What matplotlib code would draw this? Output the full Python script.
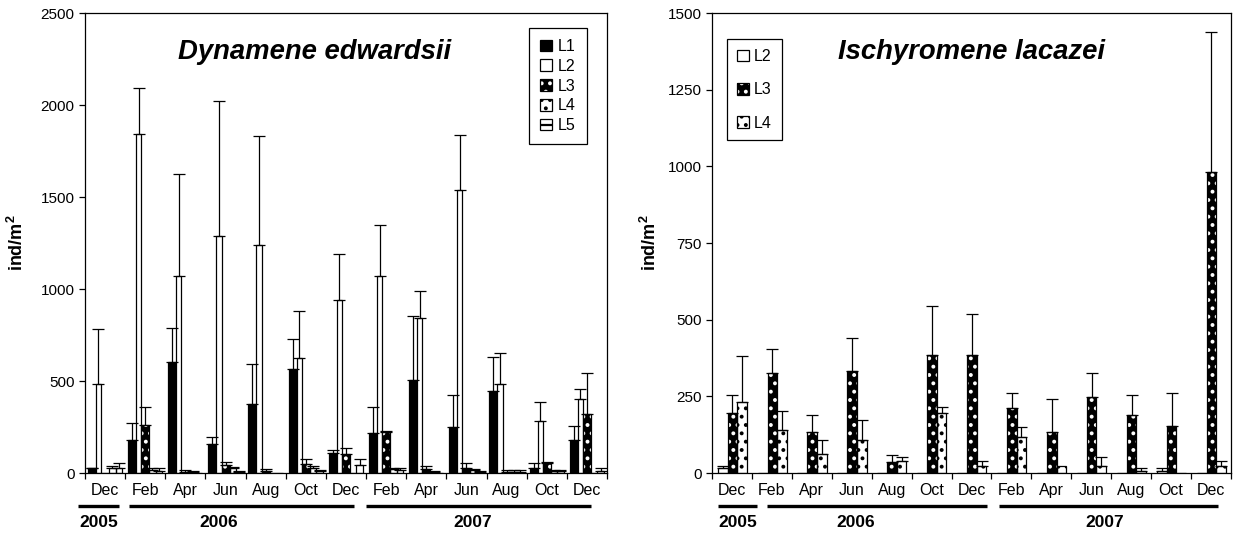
import matplotlib.pyplot as plt
from matplotlib.patches import Patch
from matplotlib.transforms import blended_transform_factory

plt.rcParams['font.family'] = ['Liberation Sans', 'DejaVu Sans']
plt.rcParams['mathtext.fontset'] = 'custom'
plt.rcParams['mathtext.rm'] = 'Liberation Sans'
plt.rcParams['mathtext.bf'] = 'Liberation Sans:bold'
plt.rcParams['hatch.linewidth'] = 1.6

# sampling months (two-monthly, Dec 2005 - Dec 2007)
months = ['Dec', 'Feb', 'Apr', 'Jun', 'Aug', 'Oct', 'Dec',
          'Feb', 'Apr', 'Jun', 'Aug', 'Oct', 'Dec']
years = ['2005', '2006', '2007']

# Dynamene edwardsii: mean density and mean + SD (ind/m2)
de_L1 = [27, 179, 604, 157, 375, 567, 110, 219, 505, 248, 447, 29, 179]
de_L1_top = [30, 270, 791, 197, 592, 731, 125, 357, 852, 424, 632, 57, 255]
de_L2 = [483, 1845, 1070, 1289, 1238, 623, 940, 1070, 840, 1538, 484, 285, 404]
de_L2_top = [782, 2092, 1625, 2025, 1834, 881, 1189, 1347, 990, 1835, 654, 386, 455]
de_L3 = [0, 261, 5, 42, 10, 51, 103, 221, 20, 27, 8, 55, 319]
de_L3_top = [0, 357, 18, 61, 22, 74, 138, 228, 40, 57, 15, 60, 545]
de_L4 = [27, 15, 5, 25, 0, 25, 0, 20, 5, 15, 8, 10, 0]
de_L4_top = [37, 28, 10, 33, 0, 36, 0, 30, 10, 20, 15, 15, 0]
de_L5 = [25, 12, 0, 8, 0, 10, 42, 15, 0, 8, 8, 10, 12]
de_L5_top = [56, 25, 0, 12, 0, 16, 76, 28, 0, 12, 15, 15, 29]

# Ischyromene lacazei
il_L2 = [15, 0, 0, 0, 0, 0, 0, 0, 0, 0, 0, 5, 0]
il_L2_top = [24, 0, 0, 0, 0, 0, 0, 0, 0, 0, 0, 15, 0]
il_L3 = [195, 327, 135, 334, 37, 385, 385, 211, 135, 247, 188, 153, 982]
il_L3_top = [254, 406, 189, 441, 59, 545, 518, 260, 243, 325, 254, 260, 1437]
il_L4 = [232, 140, 62, 108, 39, 197, 23, 116, 22, 23, 8, 0, 23]
il_L4_top = [382, 203, 108, 173, 53, 214, 39, 151, 22, 51, 15, 0, 39]

# bar styles: face, hatch colour, hatch
WHITE = ('white', None, None)
BLACK = ('black', None, None)
BLACK_DOTS = ('black', 'white', '..')
WHITE_DOTS = ('white', 'black', '..')
WHITE_BAND = ('white', 'black', '-')

LW = 0.9


def draw_bars(ax, vals, tops, offset, width, style):
    face, hcol, hatch = style
    x = [i + offset for i in range(len(vals))]
    if hatch:
        ax.bar(x, vals, width, align='edge', color=face, edgecolor=hcol,
               hatch=hatch, linewidth=0, zorder=2)
        ax.bar(x, vals, width, align='edge', fill=False, edgecolor='black',
               linewidth=LW, zorder=3)
    else:
        ax.bar(x, vals, width, align='edge', color=face, edgecolor='black',
               linewidth=LW, zorder=2)
    for xi, v, t in zip(x, vals, tops):
        if t > v:
            ax.errorbar(xi + width / 2, v, yerr=[[0], [t - v]], fmt='none',
                        ecolor='black', elinewidth=LW, capsize=4,
                        capthick=LW, zorder=4)


def legend_handle(style):
    face, hcol, hatch = style
    if hatch:
        return (Patch(facecolor=face, edgecolor=hcol, hatch=hatch, linewidth=0),
                Patch(fill=False, edgecolor='black', linewidth=LW))
    return Patch(facecolor=face, edgecolor='black', linewidth=LW)


def style_axes(ax, ymax, ystep, title, title_x, year_lines, year_pos):
    ax.set_xlim(0, len(months))
    ax.set_ylim(0, ymax)
    ax.set_yticks(range(0, ymax + 1, ystep))
    ax.set_xticks(range(len(months) + 1))
    ax.set_xticklabels([])
    ax.set_xticks([i + 0.5 for i in range(len(months))], minor=True)
    ax.set_xticklabels(months, minor=True, fontsize=11.5)
    ax.tick_params(axis='x', which='major', direction='out', length=4.5, width=LW)
    ax.tick_params(axis='x', which='minor', length=0, pad=7)
    ax.tick_params(axis='y', direction='out', length=4, width=LW, labelsize=11)
    for s in ax.spines.values():
        s.set_linewidth(LW)
    ax.set_ylabel(r'ind/m$^{\mathbf{2}}$', fontsize=13, fontweight='bold')
    ax.text(title_x, 0.915, title, transform=ax.transAxes, ha='center',
            va='center', fontsize=19.8, fontweight='bold', style='italic')
    tr = blended_transform_factory(ax.transData, ax.transAxes)
    for (x0, x1), xp, yr in zip(year_lines, year_pos, years):
        ax.plot([x0, x1], [-0.072, -0.072], color='black', lw=2.4,
                transform=tr, clip_on=False, solid_capstyle='butt')
        ax.text(xp, -0.108, yr, transform=tr, ha='center', va='center',
                fontsize=12.5, fontweight='bold')


fig = plt.figure(figsize=(12.34, 5.36), dpi=100)
ax1 = fig.add_axes([0.0689, 0.1175, 0.423, 0.858])
ax2 = fig.add_axes([0.577, 0.1175, 0.4206, 0.858])

# left panel
draw_bars(ax1, de_L1, de_L1_top, 0.07, 0.20, BLACK)
draw_bars(ax1, de_L2, de_L2_top, 0.27, 0.13, WHITE)
draw_bars(ax1, de_L3, de_L3_top, 0.40, 0.20, BLACK_DOTS)
draw_bars(ax1, de_L4, de_L4_top, 0.60, 0.16, WHITE_DOTS)
draw_bars(ax1, de_L5, de_L5_top, 0.76, 0.16, WHITE_BAND)
style_axes(ax1, 2500, 500, 'Dynamene edwardsii', 0.44,
           [(-0.17, 0.85), (1.09, 6.69), (7.01, 12.59)], [0.35, 3.33, 9.65])
ax1.yaxis.set_label_coords(-0.111, 0.5)
leg1 = ax1.legend([legend_handle(s) for s in (BLACK, WHITE, BLACK_DOTS, WHITE_DOTS, WHITE_BAND)],
                  ['L1', 'L2', 'L3', 'L4', 'L5'], loc='upper right',
                  bbox_to_anchor=(0.962, 0.968), borderaxespad=0, fancybox=False,
                  edgecolor='black', framealpha=1, fontsize=11.5, handlelength=0.75,
                  handleheight=0.75, handletextpad=0.4, labelspacing=0.3,
                  borderpad=0.7)
leg1.get_frame().set_linewidth(LW)

# right panel
draw_bars(ax2, il_L2, il_L2_top, 0.14, 0.25, WHITE)
draw_bars(ax2, il_L3, il_L3_top, 0.39, 0.24, BLACK_DOTS)
draw_bars(ax2, il_L4, il_L4_top, 0.63, 0.24, WHITE_DOTS)
style_axes(ax2, 1500, 250, 'Ischyromene lacazei', 0.50,
           [(0.15, 1.13), (1.38, 6.88), (7.2, 12.68)], [0.65, 3.6, 9.83])
ax2.yaxis.set_label_coords(-0.100, 0.5)
leg2 = ax2.legend([legend_handle(s) for s in (WHITE, BLACK_DOTS, WHITE_DOTS)],
                  ['L2', 'L3', 'L4'], loc='upper left',
                  bbox_to_anchor=(0.029, 0.943), borderaxespad=0, fancybox=False,
                  edgecolor='black', framealpha=1, fontsize=11.5, handlelength=0.75,
                  handleheight=0.75, handletextpad=0.35, labelspacing=1.15,
                  borderpad=0.6)
leg2.get_frame().set_linewidth(LW)

fig.savefig('out.png', dpi=100)
